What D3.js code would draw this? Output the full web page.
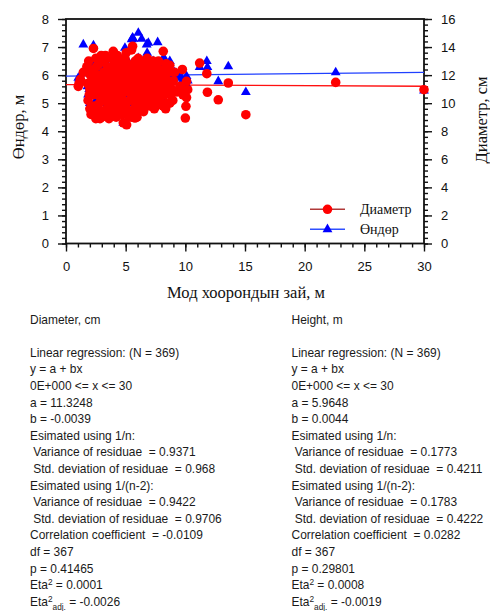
<!DOCTYPE html>
<html>
<head>
<meta charset="utf-8">
<script src="https://cdn.jsdelivr.net/npm/d3@7"></script>
<style>
  body { margin: 0; background: #fff; }
  svg { display: block; }
  .tick text { font-family: "Liberation Sans", Arial, sans-serif; font-size: 13px; fill: #111; }
  .stats text { font-family: "Liberation Sans", Arial, sans-serif; font-size: 13px; fill: #1a1a1a; white-space: pre; }
  .serif { font-family: "Liberation Serif", "Times New Roman", serif; fill: #111; }
</style>
</head>
<body>
<svg id="main-svg" width="490" height="611"></svg>
<script>
// tree data: distance between trees (m), diameter (cm, right axis), height (m, left axis)
const distance = [
  1.03, 1.1, 1.2, 1.45, 1.75, 1.8, 1.85, 1.9, 2.0, 2.3, 2.2, 2.25, 2.1, 2.3,
  2.5, 2.57, 2.45, 2.6, 2.5, 2.65, 2.85, 2.8, 2.9, 2.75, 2.95, 2.9,
  3.1, 3.05, 3.15, 3.2, 3.1, 3.4, 3.35, 3.45, 3.3, 3.5, 3.4,
  3.7, 3.65, 3.75, 3.8, 3.7, 3.6, 3.96, 4.0, 3.95, 4.05, 3.9,
  4.2, 4.25, 4.15, 4.3, 4.2, 4.35, 4.38, 4.5, 4.55, 4.45, 4.6, 4.5,
  4.8, 4.75, 4.85, 4.94, 4.8, 4.7, 5.08, 5.0, 5.1, 5.15, 5.05, 5.2,
  5.35, 5.3, 5.4, 5.5, 5.35, 5.45, 5.58, 5.64, 5.6, 5.7, 5.65, 5.75,
  5.78, 5.85, 5.9, 5.8, 6.06, 6.1, 6.0, 6.15, 6.05,
  6.34, 6.3, 6.4, 6.35, 6.45, 6.6, 6.65, 6.55, 6.7, 6.76,
  6.9, 6.85, 6.95, 6.8, 7.0, 7.2, 7.25, 7.15, 7.3, 7.2,
  7.5, 7.45, 7.55, 7.68, 7.6, 7.8, 7.85, 7.75, 7.9,
  8.15, 8.15, 8.1, 8.2, 8.25, 8.3, 8.45, 8.5, 8.55, 8.4,
  8.7, 8.7, 8.85, 8.8, 9.0, 9.3, 9.55, 9.7, 9.75, 9.8,
  10.0, 10.05, 10.1, 10.2, 10.1, 11.2, 11.8, 11.85, 12.76, 13.6, 15.07, 22.6, 30.0,
  2.0, 2.05, 1.95, 2.4, 2.35, 2.7, 2.7, 2.55, 3.0, 3.0,
  3.25, 3.25, 3.55, 3.55, 3.55, 3.85, 3.85, 4.1, 4.1, 4.1,
  4.4, 4.4, 4.65, 4.65, 4.65, 4.9, 4.9, 5.25, 5.25, 5.5,
  5.5, 5.55, 5.95, 5.95, 6.2, 6.2, 6.2, 6.5, 6.5, 6.5,
  6.75, 6.75, 7.05, 7.05, 7.35, 7.35, 7.4, 7.65, 7.65, 7.95,
  7.95, 8.0, 8.35, 8.35, 8.6, 8.6, 8.95, 9.1
];
const diameter = [
  11.2, 11.4, 11.7, 12.2, 12.6, 11.4, 10.2, 13.0, 9.6, 13.9, 11.8, 10.6, 9.2, 12.4,
  8.9, 9.2, 10.8, 12.0, 13.2, 11.2, 8.9, 10.0, 11.6, 12.8, 13.4, 10.4,
  9.4, 11.0, 12.2, 13.0, 10.2, 9.6, 10.8, 12.6, 13.4, 11.4, 9.1,
  9.8, 11.2, 12.4, 13.2, 10.4, 8.9, 13.7, 10.0, 11.6, 12.8, 9.4,
  9.0, 10.6, 12.0, 13.4, 11.4, 9.8, 9.3, 10.8, 12.2, 13.0, 11.0, 9.6,
  8.6, 10.2, 11.8, 13.2, 12.6, 10.6, 8.46, 9.8, 11.4, 12.8, 13.6, 10.8,
  9.4, 11.0, 12.4, 13.8, 10.2, 11.8, 14.06, 12.0, 10.4, 9.6, 11.2, 12.8,
  8.94, 10.0, 11.6, 13.0, 12.6, 10.8, 9.4, 11.8, 13.2,
  12.2, 10.0, 11.4, 9.8, 13.0, 10.6, 12.4, 9.9, 11.2, 12.8,
  11.0, 10.2, 12.0, 13.2, 9.8, 10.6, 12.2, 11.4, 13.0, 9.9,
  9.8, 11.0, 12.6, 12.0, 10.4, 11.6, 10.2, 13.0, 9.9,
  13.7, 9.8, 11.2, 12.4, 10.6, 12.0, 10.0, 11.6, 10.8, 12.8,
  12.7, 10.0, 11.0, 10.6, 11.6, 10.8, 11.2, 11.08, 12.4, 10.6,
  8.94, 9.78, 10.4, 10.96, 11.56, 12.86, 12.1, 10.78, 10.24, 11.44, 9.18, 11.48, 10.96,
  11.0, 12.0, 10.6, 9.8, 11.4, 10.6, 9.4, 12.6, 12.0, 9.0,
  10.6, 11.8, 10.0, 12.0, 9.2, 10.8, 12.2, 9.6, 11.0, 12.6,
  10.2, 11.8, 9.2, 11.4, 12.6, 9.4, 11.0, 9.0, 12.2, 10.6,
  9.0, 12.4, 9.0, 12.4, 10.4, 11.2, 12.8, 9.4, 10.8, 12.0,
  10.0, 11.8, 10.8, 12.6, 10.2, 11.8, 9.6, 11.2, 12.8, 10.6,
  12.2, 11.0, 11.0, 9.6, 11.2, 12.2, 10.2, 12.2
];
const height = [
  5.9, 5.85, 5.95, 7.09, 6.2, 5.6, 5.3, 6.4, 5.0, 7.06, 6.0, 5.7, 5.4, 6.3,
  5.1, 4.9, 5.8, 6.1, 6.5, 5.9, 5.5, 5.2, 6.2, 6.0, 6.6, 5.6,
  5.3, 5.9, 6.4, 6.1, 5.7, 5.0, 5.8, 6.3, 6.5, 6.0, 5.4,
  5.5, 5.9, 6.2, 6.6, 5.7, 5.2, 6.3, 5.6, 6.0, 6.4, 5.1,
  5.3, 5.8, 6.1, 6.7, 5.9, 5.5, 4.9, 5.7, 6.2, 6.5, 6.0, 5.4,
  4.3, 5.6, 6.1, 6.97, 6.4, 5.8, 5.0, 5.5, 6.0, 6.3, 6.6, 5.8,
  5.2, 5.9, 6.2, 7.27, 5.7, 6.1, 7.33, 7.29, 5.6, 5.3, 6.0, 6.4,
  5.1, 5.5, 6.1, 6.5, 7.5, 5.8, 5.2, 6.2, 6.6,
  7.29, 5.4, 6.0, 5.0, 6.4, 5.7, 6.2, 5.3, 6.0, 7.09,
  7.15, 5.5, 6.1, 6.79, 5.2, 5.6, 6.3, 5.9, 6.5, 5.1,
  4.9, 5.8, 6.2, 7.17, 5.5, 6.0, 5.4, 6.4, 5.2,
  6.6, 5.1, 5.9, 6.2, 5.6, 6.55, 5.3, 6.0, 5.7, 6.3,
  6.5, 6.2, 6.13, 5.6, 5.9, 5.96, 5.96, 5.9, 5.8, 5.5,
  5.6, 5.7, 5.96, 5.8, 5.9, 6.28, 6.5, 6.28, 5.78, 6.31, 5.39, 6.1, 5.45,
  5.7, 6.1, 5.5, 5.6, 5.9, 5.7, 5.3, 6.2, 6.3, 5.0,
  5.6, 6.0, 5.4, 6.1, 5.0, 5.8, 6.2, 5.4, 5.8, 6.3,
  5.6, 6.1, 5.2, 5.9, 6.3, 5.3, 5.9, 5.0, 6.2, 5.7,
  5.1, 6.3, 5.0, 6.2, 5.6, 5.9, 6.4, 5.2, 5.8, 6.1,
  5.4, 6.0, 5.7, 6.3, 5.5, 6.0, 5.2, 5.9, 6.4, 5.6,
  6.1, 5.8, 5.9, 5.0, 5.8, 6.1, 5.5, 6.1
];

// regression coefficients y = a + bx
const diamFit = { a: 11.3248, b: -0.0039 };
const heightFit = { a: 5.9648, b: 0.0044 };

const xTicks = [0, 5, 10, 15, 20, 25, 30];
const yLeftTicks = [0, 1, 2, 3, 4, 5, 6, 7, 8];
const yRightTicks = [0, 2, 4, 6, 8, 10, 12, 14, 16];

const legendNames = ['Диаметр', 'Өндөр'];

const diamStats = [
  'Diameter, cm', '',
  'Linear regression: (N = 369)', 'y = a + bx', '0E+000 <= x <= 30',
  'a = 11.3248', 'b = -0.0039', 'Esimated using 1/n:',
  ' Variance of residuae  = 0.9371', ' Std. deviation of residuae  = 0.968',
  'Esimated using 1/(n-2):',
  ' Variance of residuae  = 0.9422', ' Std. deviation of residuae  = 0.9706',
  'Correlation coefficient  = -0.0109', 'df = 367', 'p = 0.41465',
  'ETA2| = 0.0001', 'ETA2ADJ| = -0.0026'
];
const heightStats = [
  'Height, m', '',
  'Linear regression: (N = 369)', 'y = a + bx', '0E+000 <= x <= 30',
  'a = 5.9648', 'b = 0.0044', 'Esimated using 1/n:',
  ' Variance of residuae  = 0.1773', ' Std. deviation of residuae  = 0.4211',
  'Esimated using 1/(n-2):',
  ' Variance of residuae  = 0.1783', ' Std. deviation of residuae  = 0.4222',
  'Correlation coefficient  = 0.0282', 'df = 367', 'p = 0.29801',
  'ETA2| = 0.0008', 'ETA2ADJ| = -0.0019'
];

const svg = d3.select('#main-svg');

const pLeft = 66, pRight = 424, pTop = 19, pBottom = 243.5;
const x = d3.scaleLinear().domain([0, 30]).range([pLeft, pRight]);
const yL = d3.scaleLinear().domain([0, 8]).range([pBottom, pTop]);
const yR = d3.scaleLinear().domain([0, 16]).range([pBottom, pTop]);

// minor ticks
svg.append('g').attr('transform', `translate(0,${pBottom})`)
    .call(d3.axisBottom(x).tickValues(d3.range(0, 31, 1)).tickSize(4).tickFormat(''));
svg.append('g').attr('transform', `translate(${pLeft},0)`)
    .call(d3.axisLeft(yL).tickValues(d3.range(0, 8.01, 0.2)).tickSize(4).tickFormat(''));
svg.append('g').attr('transform', `translate(${pRight},0)`)
    .call(d3.axisRight(yR).tickValues(d3.range(0, 16.01, 0.4)).tickSize(4).tickFormat(''));

// major ticks
svg.append('g').attr('transform', `translate(0,${pBottom})`)
    .call(d3.axisBottom(x).tickValues(xTicks).tickSize(8).tickPadding(10));
svg.append('g').attr('transform', `translate(${pLeft},0)`)
    .call(d3.axisLeft(yL).tickValues(yLeftTicks).tickSize(8).tickPadding(9));
svg.append('g').attr('transform', `translate(${pRight},0)`)
    .call(d3.axisRight(yR).tickValues(yRightTicks).tickSize(8).tickPadding(9));

svg.selectAll('.domain').remove();
svg.selectAll('.tick line').attr('stroke', '#111').attr('stroke-width', 1.4);
svg.selectAll('.tick text').attr('font-size', null).attr('font-family', null);

// frame
svg.append('rect')
    .attr('x', pLeft).attr('y', pTop)
    .attr('width', pRight - pLeft).attr('height', pBottom - pTop)
    .attr('fill', 'none').attr('stroke', '#111').attr('stroke-width', 1.8);

// regression lines
const plot = svg.append('g');
plot.append('line')
    .attr('x1', x(0)).attr('x2', x(30))
    .attr('y1', yL(heightFit.a)).attr('y2', yL(heightFit.a + heightFit.b * 30))
    .attr('stroke', '#2040ff').attr('stroke-width', 1.3);
plot.append('line')
    .attr('x1', x(0)).attr('x2', x(30))
    .attr('y1', yR(diamFit.a)).attr('y2', yR(diamFit.a + diamFit.b * 30))
    .attr('stroke', '#ff1010').attr('stroke-width', 1.3);

const tri = d3.symbol().type(d3.symbolTriangle).size(42);

// height points (blue triangles), drawn under the diameter points
plot.selectAll('path.h')
    .data(distance)
    .enter()
    .append('path')
    .attr('class', 'h')
    .attr('d', tri)
    .attr('transform', (d, i) => `translate(${x(d)},${yL(height[i])})`)
    .attr('fill', '#0000ff');

// diameter points (red circles)
plot.selectAll('circle.d')
    .data(distance)
    .enter()
    .append('circle')
    .attr('class', 'd')
    .attr('cx', d => x(d))
    .attr('cy', (d, i) => yR(diameter[i]))
    .attr('r', 4.8)
    .attr('fill', '#ff0000');

// legend
const legend = svg.append('g');
const legendY = [209.3, 229.3];
const legendLine = ['#b03a3a', '#3050ff'];
legendNames.forEach((name, i) => {
    legend.append('line')
        .attr('x1', 310).attr('x2', 345)
        .attr('y1', legendY[i]).attr('y2', legendY[i])
        .attr('stroke', legendLine[i]).attr('stroke-width', 1.5);
    if (i === 0) {
        legend.append('circle').attr('cx', 327.5).attr('cy', legendY[i]).attr('r', 4.8).attr('fill', '#ff0000');
    } else {
        legend.append('path').attr('d', tri).attr('transform', `translate(327.5,${legendY[i]})`).attr('fill', '#0000ff');
    }
    legend.append('text')
        .attr('class', 'serif')
        .attr('x', 360).attr('y', legendY[i]).attr('dy', '0.35em')
        .attr('font-size', 14)
        .text(name);
});

// axis titles
svg.append('text').attr('class', 'serif')
    .attr('x', 246).attr('y', 292).attr('dy', '0.35em')
    .attr('text-anchor', 'middle').attr('font-size', 16.5)
    .text('Мод хоорондын зай, м');
svg.append('text').attr('class', 'serif')
    .attr('transform', 'translate(18,127) rotate(-90)')
    .attr('dy', '0.35em')
    .attr('text-anchor', 'middle').attr('font-size', 16.5)
    .text('Өндөр, м');
svg.append('text').attr('class', 'serif')
    .attr('transform', 'translate(481,120) rotate(-90)')
    .attr('dy', '0.35em')
    .attr('text-anchor', 'middle').attr('font-size', 16.5)
    .text('Диаметр, см');

// statistics blocks
function drawStats(lines, x0) {
    const g = svg.append('g')
        .attr('class', 'stats')
        .attr('transform', `translate(${x0},0) scale(0.92,1)`);
    lines.forEach((line, i) => {
        const y = 319 + i * 16.6;
        const t = g.append('text').attr('x', 0).attr('y', y).attr('dy', '0.35em');
        if (line.startsWith('ETA2')) {
            const adj = line.startsWith('ETA2ADJ');
            const rest = line.split('|')[1];
            t.append('tspan').text('Eta');
            t.append('tspan').attr('font-size', 9).attr('dy', -4).text('2');
            if (adj) {
                t.append('tspan').attr('font-size', 9).attr('dy', 8).text('adj.');
                t.append('tspan').attr('dy', -4).text(rest);
            } else {
                t.append('tspan').attr('dy', 4).text(rest);
            }
        } else {
            t.text(line);
        }
    });
}
drawStats(diamStats, 30);
drawStats(heightStats, 291.5);
</script>
</body>
</html>
